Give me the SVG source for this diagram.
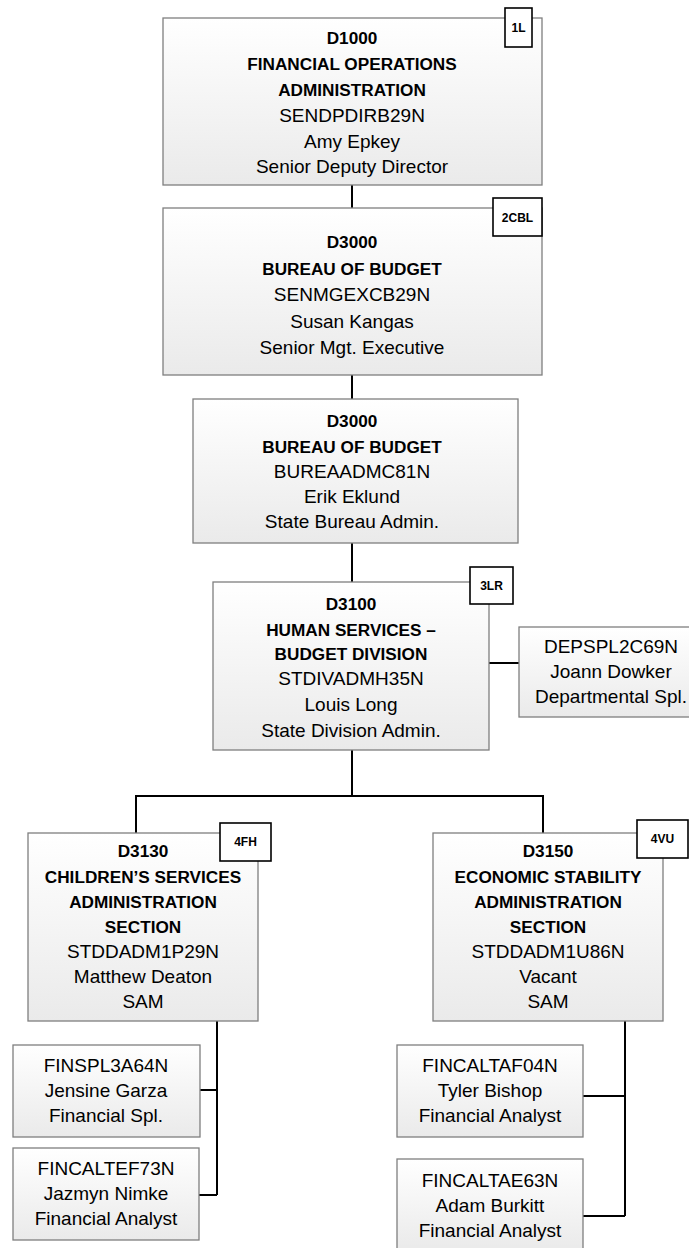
<svg xmlns="http://www.w3.org/2000/svg" width="689" height="1248" viewBox="0 0 689 1248">
<defs>
<linearGradient id="g" x1="0" y1="0" x2="0" y2="1">
<stop offset="0" stop-color="#ffffff"/>
<stop offset="1" stop-color="#eaeaea"/>
</linearGradient>
<style>
.box{fill:url(#g);stroke:#7f7f7f;stroke-width:1.3}
.badge{fill:#ffffff;stroke:#000000;stroke-width:1.6}
.t{font-family:"Liberation Sans",Arial,sans-serif;font-size:19px;fill:#000;text-anchor:middle}
.b{font-family:"Liberation Sans",Arial,sans-serif;font-size:17.2px;font-weight:bold;fill:#000;text-anchor:middle}
.bt{font-family:"Liberation Sans",Arial,sans-serif;font-size:12px;font-weight:bold;fill:#000;text-anchor:middle}
.c{fill:none;stroke:#000;stroke-width:2}
</style>
</defs>
<rect width="689" height="1248" fill="#ffffff"/>
<g id="connectors">
<path class="c" d="M352 185V208"/>
<path class="c" d="M352 375V399"/>
<path class="c" d="M352 543V582"/>
<path class="c" d="M489 663H519"/>
<path class="c" d="M352 750V796M136 833V796H543V833"/>
<path class="c" d="M217 1021V1195M200 1090H217M199 1195H217"/>
<path class="c" d="M625 1021V1216M583 1096H625M583 1216H625"/>
</g>
<g id="n1">
<rect class="box" x="163" y="18" width="379" height="167"/>
<text class="b" x="352" y="44">D1000</text>
<text class="b" x="352" y="70">FINANCIAL OPERATIONS</text>
<text class="b" x="352" y="96">ADMINISTRATION</text>
<text class="t" x="352" y="122">SENDPDIRB29N</text>
<text class="t" x="352" y="147.5">Amy Epkey</text>
<text class="t" x="352" y="173">Senior Deputy Director</text>
<rect class="badge" x="505" y="8" width="27" height="39"/>
<text class="bt" x="518.5" y="32">1L</text>
</g>
<g id="n2">
<rect class="box" x="163" y="208" width="379" height="167"/>
<text class="b" x="352" y="248">D3000</text>
<text class="b" x="352" y="274.5">BUREAU OF BUDGET</text>
<text class="t" x="352" y="301">SENMGEXCB29N</text>
<text class="t" x="352" y="327.5">Susan Kangas</text>
<text class="t" x="352" y="354">Senior Mgt. Executive</text>
<rect class="badge" x="493" y="198" width="49" height="38"/>
<text class="bt" x="517.5" y="222">2CBL</text>
</g>
<g id="n3">
<rect class="box" x="193" y="399" width="325" height="144"/>
<text class="b" x="352" y="427">D3000</text>
<text class="b" x="352" y="452.5">BUREAU OF BUDGET</text>
<text class="t" x="352" y="478">BUREAADMC81N</text>
<text class="t" x="352" y="503">Erik Eklund</text>
<text class="t" x="352" y="528">State Bureau Admin.</text>
</g>
<g id="n4">
<rect class="box" x="213" y="582" width="276" height="168"/>
<text class="b" x="351" y="610">D3100</text>
<text class="b" x="351" y="636">HUMAN SERVICES –</text>
<text class="b" x="351" y="660">BUDGET DIVISION</text>
<text class="t" x="351" y="685">STDIVADMH35N</text>
<text class="t" x="351" y="711">Louis Long</text>
<text class="t" x="351" y="737">State Division Admin.</text>
<rect class="badge" x="470" y="567" width="43" height="37"/>
<text class="bt" x="491.5" y="590">3LR</text>
</g>
<g id="n5">
<rect class="box" x="519" y="627" width="185" height="90"/>
<text class="t" x="611" y="653">DEPSPL2C69N</text>
<text class="t" x="611" y="678">Joann Dowker</text>
<text class="t" x="611" y="703">Departmental Spl.</text>
</g>
<g id="n6">
<rect class="box" x="28" y="833" width="230" height="188"/>
<text class="b" x="143" y="857">D3130</text>
<text class="b" x="143" y="883">CHILDREN’S SERVICES</text>
<text class="b" x="143" y="908">ADMINISTRATION</text>
<text class="b" x="143" y="933">SECTION</text>
<text class="t" x="143" y="958">STDDADM1P29N</text>
<text class="t" x="143" y="983">Matthew Deaton</text>
<text class="t" x="143" y="1008">SAM</text>
<rect class="badge" x="220" y="823" width="51" height="38"/>
<text class="bt" x="245.5" y="846">4FH</text>
</g>
<g id="n7">
<rect class="box" x="433" y="833" width="230" height="188"/>
<text class="b" x="548" y="857">D3150</text>
<text class="b" x="548" y="883">ECONOMIC STABILITY</text>
<text class="b" x="548" y="908">ADMINISTRATION</text>
<text class="b" x="548" y="933">SECTION</text>
<text class="t" x="548" y="958">STDDADM1U86N</text>
<text class="t" x="548" y="983">Vacant</text>
<text class="t" x="548" y="1008">SAM</text>
<rect class="badge" x="637" y="820" width="51" height="38"/>
<text class="bt" x="662.5" y="843">4VU</text>
</g>
<g id="n8">
<rect class="box" x="13" y="1045" width="187" height="92"/>
<text class="t" x="106" y="1072">FINSPL3A64N</text>
<text class="t" x="106" y="1097">Jensine Garza</text>
<text class="t" x="106" y="1122">Financial Spl.</text>
</g>
<g id="n9">
<rect class="box" x="13" y="1148" width="186" height="92"/>
<text class="t" x="106" y="1175">FINCALTEF73N</text>
<text class="t" x="106" y="1200">Jazmyn Nimke</text>
<text class="t" x="106" y="1225">Financial Analyst</text>
</g>
<g id="n10">
<rect class="box" x="397" y="1045" width="186" height="92"/>
<text class="t" x="490" y="1072">FINCALTAF04N</text>
<text class="t" x="490" y="1097">Tyler Bishop</text>
<text class="t" x="490" y="1122">Financial Analyst</text>
</g>
<g id="n11">
<rect class="box" x="397" y="1159" width="186" height="92"/>
<text class="t" x="490" y="1187">FINCALTAE63N</text>
<text class="t" x="490" y="1212">Adam Burkitt</text>
<text class="t" x="490" y="1237">Financial Analyst</text>
</g>
</svg>
